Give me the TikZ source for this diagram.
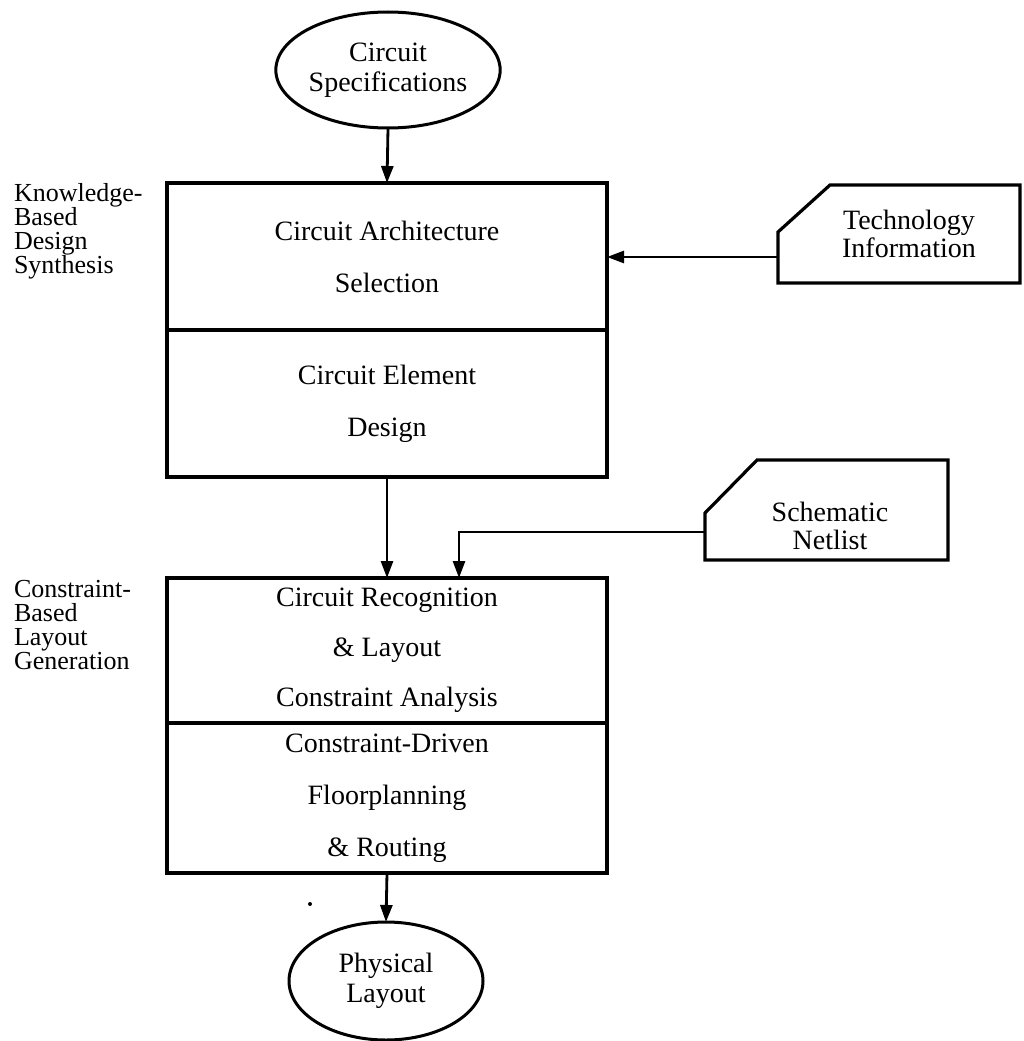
\documentclass[tikz,border=0pt]{standalone}
\usepackage{fontspec}
\setmainfont{Liberation Serif}
\usetikzlibrary{arrows.meta,shapes.geometric}
\begin{document}
\begin{tikzpicture}[x=1pt,y=-1pt,
  every node/.style={inner sep=0pt, outer sep=0pt},
  oval/.style={ellipse, draw, line width=3pt, align=center,
    font=\fontsize{28}{30}\selectfont},
  stage/.style={rectangle, draw, line width=3.4pt, minimum width=440pt,
    align=center, font=\fontsize{28}{52}\selectfont},
  card/.style={draw, line width=3.2pt, line join=miter},
  cardtext/.style={align=center, font=\fontsize{28}{27.5}\selectfont},
  side/.style={anchor=north west, align=left, font=\fontsize{26}{24}\selectfont},
  flow/.style={line width=2.8pt, -{Triangle[length=17pt,width=12pt]}}]
\useasboundingbox (0,0) rectangle (1023,1041);

% source and result
\node[oval, minimum width=200pt, minimum height=116pt] (spec) at (388,70)
  {Circuit\\Specifications};
\node[oval, minimum width=194pt, minimum height=118pt] (phys) at (386,981)
  {Physical\\Layout};

% synthesis stages
\node[stage, minimum height=147pt] (arch) at (387,256.5)
  {Circuit Architecture\\Selection};
\node[stage, minimum height=147pt] (elem) at (387,403.5)
  {Circuit Element\\Design};

% layout stages
\node[stage, minimum height=145pt, font=\fontsize{28}{50}\selectfont] (recog) at (387,650.5)
  {Circuit Recognition\\\& Layout\\Constraint Analysis};
\node[stage, minimum height=150pt] (route) at (387,798)
  {Constraint-Driven\\Floorplanning\\\& Routing};

% phase labels
\node[side] (kbds) at (14,183) {Knowledge-\\Based\\Design\\Synthesis};
\node[side] (cblg) at (14,580) {Constraint-\\Based\\Layout\\Generation};

% external inputs (cards with a cut corner)
\draw[card] (778,232) -- (830,185) -- (1020,185) -- (1020,283) -- (778,283) -- cycle;
\node[cardtext] (tech) at (909,234) {Technology\\Information};
\coordinate (techin) at (778,257);

\draw[card] (705,513) -- (757,460) -- (948,460) -- (948,560) -- (705,560) -- cycle;
\node[cardtext] (net) at (830,526) {Schematic\\Netlist};
\coordinate (netin) at (705,532);
\coordinate (netdrop) at (459,532);

% connectors
\draw[flow] (spec.south) -- (arch.north);
\draw[flow] (techin) -- (techin -| arch.east);
\draw[flow] (elem.south) -- (recog.north);
\draw[flow] (netin) -| (netdrop |- recog.north);
\draw[flow] (route.south) -- (phys.north);

% speck
\fill (310,904) circle (2pt);
\end{tikzpicture}
\end{document}
